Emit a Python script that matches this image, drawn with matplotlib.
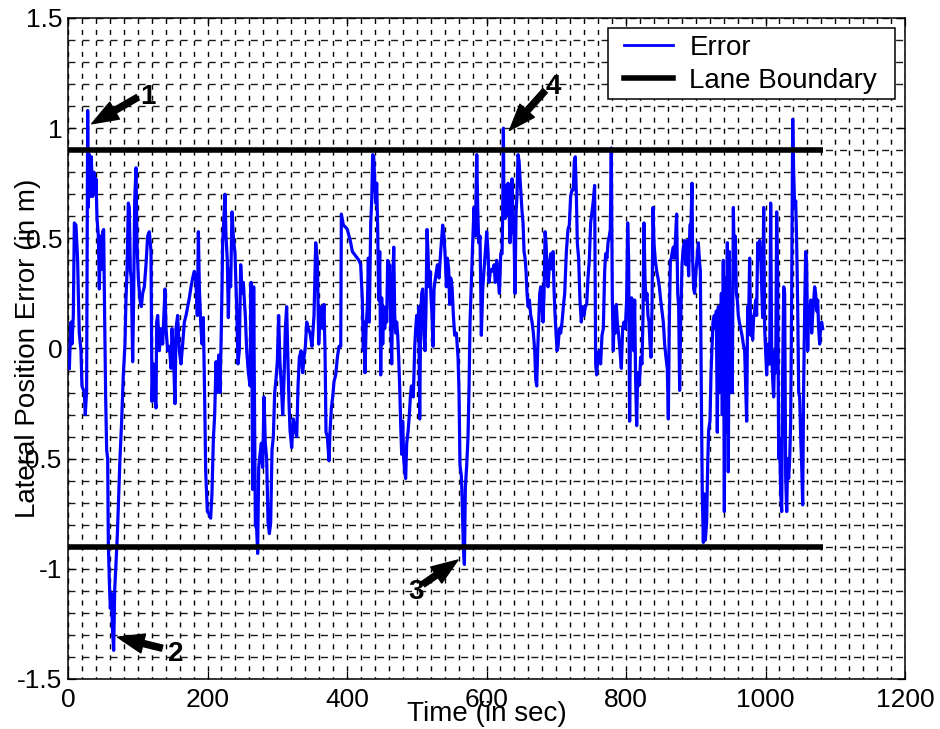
import matplotlib
matplotlib.use("Agg")
import matplotlib.pyplot as plt
from matplotlib.lines import Line2D
from matplotlib.patches import Rectangle
from matplotlib.ticker import MultipleLocator

plt.rcParams['font.family'] = ['Liberation Sans', 'DejaVu Sans']
plt.rcParams['lines.scale_dashes'] = False

# ---- data ----
time_s = [
    2, 3, 4.3, 5.7, 7.6, 9.1, 11.4, 13.8, 14.8, 16.2, 18.6, 20.0, 23.4, 24.8, 26.7, 28.2, 29.1, 30.6, 32.0, 33.4,
    35.3, 37.3, 39.2, 40.1, 41.6, 43.5, 44.9, 46.3, 48.2, 49.7, 51.1, 52.5, 54.0, 55.4, 56.9, 57.8, 59.2, 60.7, 62.1, 64.0,
    65.5, 66.9, 68.8, 70.7, 72.1, 74.5, 76.9, 79.3, 81.7, 83.1, 84.6, 86.5, 87.9, 89.4, 90.8, 92.7, 94.1, 95.6, 97.5, 98.9,
    100.8, 103.2, 105.1, 107.0, 109.4, 111.8, 114.2, 116.6, 119.0, 120.4, 122.3, 123.8, 126.2, 127.1, 128.6, 131.0, 133.3, 135.7, 139.1, 140.5,
    142.9, 145.3, 147.7, 149.1, 151.0, 153.4, 154.8, 157.2, 159.6, 162.0, 164.4, 166.8, 169.2, 171.6, 174.0, 176.4, 178.7, 181.1,
    183.5, 185.4, 186.9, 188.3, 190.2, 192.1, 194.0, 195.9, 197.4, 199.8, 202.1, 204.5, 206.4, 208.4, 210.3, 212.2, 214.1, 216.0, 217.9, 219.4,
    220.8, 221.7, 223.7, 225.1, 226.5, 228.4, 229.9, 231.3, 233.2, 235.1, 237.0, 239.4, 241.8, 243.7, 245.6, 247.6, 249.5, 251.4, 252.8, 254.2,
    256.2, 258.6, 261.0, 262.4, 263.8, 264.8, 266.2, 267.2, 268.6, 270.5, 271.9, 273.4, 275.3, 277.2, 279.1, 281.0, 282.9, 284.8, 286.8, 288.7,
    290.6, 292.5, 294.4, 296.3, 298.2, 300.1, 302.0, 304.0, 305.9, 307.8, 309.7, 311.6, 313.5, 315.4, 316.9, 318.3, 320.7, 323.1, 325.5, 327.9,
    329.8, 331.7, 334.1, 336.5, 338.4, 340.3, 342.2, 344.6, 347.0, 349.8, 352.7, 355.1, 357.5, 359.4,
    361.3, 363.2, 365.1, 367.0, 368.5, 369.9, 371.8, 374.2, 375.6, 377.6, 379.5, 381.4, 383.8, 386.2, 388.5, 391.0, 391.9, 394.8, 398.1, 400.5,
    402.9, 405.3, 407.7, 410.1, 414.8, 417.2, 419.6, 422.0, 423.4, 424.4, 425.8, 427.3, 429.2, 430.6, 432.0, 434.0, 435.4, 436.8, 438.3, 439.7,
    441.1, 442.6, 444.0, 445.4, 446.9, 448.3, 449.7, 451.2, 452.6, 454.0, 455.5, 456.9, 458.3, 459.8, 461.2, 462.6, 464.1, 465.5, 467.0, 468.4,
    469.8, 471.2, 472.7, 474.1, 475.5, 477.0, 478.4, 479.8, 481.3, 482.7, 484.1, 485.6, 487.5, 489.4, 490.8, 492.3, 493.7, 495.1, 497.1, 498.5,
    499.9, 501.4, 502.8, 504.2, 505.7, 507.1, 508.5, 510.4, 511.9, 513.3, 514.7, 516.2, 517.6, 519.0, 520.5, 521.9, 523.3, 524.8, 527.2, 529.6,
    532.0, 534.3, 537.2, 539.1, 541.0, 542.5, 543.9, 545.8, 547.2, 548.7, 550.6, 552.5, 554.4, 556.8, 559.2, 560.6, 562.0, 564.0, 565.4, 566.8,
    568.3, 569.7, 571.6, 573.5, 575.0, 576.4, 578.3, 580.2, 582.1, 584.0, 586.0, 587.4, 588.8, 590.7, 592.6, 594.6, 596.5, 598.4, 600.3, 602.2,
    603.6, 605.5, 607.5, 609.4, 610.8, 612.7, 614.6, 616.5, 618.5, 620.4, 622.3, 623.2, 624.2, 625.1, 626.6, 628.0, 629.4, 630.9, 632.3, 633.7,
    635.2, 636.6, 638.1, 639.5, 640.9, 642.4, 643.8, 645.2, 646.7, 648.1, 649.5, 651.0, 652.4, 653.8, 655.3, 656.7, 658.1, 659.6, 661.5, 663.4,
    665.3, 667.2, 669.1, 670.6, 672.0, 673.4, 674.9, 676.3, 677.7, 679.2, 681.1, 682.5, 684.0, 685.4, 686.8, 688.2, 690.2, 692.1, 694.0, 695.4,
    696.8, 698.3, 699.7, 701.1, 702.6, 704.5, 706.4, 708.3, 710.2, 712.1, 714.5,
    716.8, 718.7, 720.6, 722.5, 724.5, 725.9, 727.3, 728.8, 730.2, 732.1, 734.0, 735.9, 737.8, 739.8, 741.7, 743.6, 745.5, 747.4, 749.3, 751.2,
    753.1, 755.0, 756.5, 757.9, 759.8, 761.7, 763.6, 765.6, 767.5, 769.4, 770.8, 772.7, 774.2, 776.1, 777.5, 778.9, 780.4, 781.8, 783.2, 784.7,
    786.1, 787.5, 789.5, 791.4, 793.3, 795.2, 797.1, 799.0, 800.9, 802.4, 803.8, 805.2, 806.7, 808.1, 809.5, 811.0, 812.4, 813.8, 815.3, 816.7,
    818.1, 819.6, 821.0, 822.9, 824.4, 825.8, 827.2, 828.7, 830.1, 831.5, 833.0, 834.4, 835.8, 837.3, 838.7, 840.1, 842.0, 844.0, 845.9, 847.8,
    849.7, 851.6, 853.5, 855.4, 857.3, 859.2, 860.7, 862.1, 863.6, 865.0, 866.4, 867.9, 869.3, 870.7, 872.6, 874.1, 875.5, 876.9, 878.4, 880.3,
    882.2, 884.1, 886.0, 887.9, 889.8, 891.7, 893.2, 894.6, 895.6, 897.0, 898.4, 900.3, 902.3, 903.7, 905.1, 906.6, 908.0, 909.4, 910.9, 912.3,
    913.7, 915.6, 917.1, 918.5, 920.4, 921.9, 923.3, 924.7, 926.6, 928.1, 929.5, 930.9, 932.4, 933.8, 935.2, 936.7, 938.1, 939.5, 941.0, 942.4,
    943.8, 945.3, 946.7, 948.1, 949.6, 951.0, 952.4, 953.9, 955.3, 956.7, 958.2, 959.6, 961.0, 962.5, 964.4, 966.3, 968.2, 970.1, 971.6, 973.0,
    974.4, 975.9, 977.3, 978.7, 980.2, 981.6, 983.0, 984.5, 985.9, 987.3, 988.8, 990.2, 991.6, 993.1, 994.5, 995.9, 997.4, 998.8, 1000.2, 1001.7,
    1003.1, 1004.5, 1006.0, 1007.4, 1008.8, 1010.3, 1011.7, 1013.1, 1014.6, 1016.0, 1017.5, 1018.9, 1020.3, 1021.8, 1023.2, 1024.6, 1026.1, 1027.5, 1028.9, 1030.4,
    1031.8, 1033.2, 1034.7, 1036.1, 1037.5, 1039.0, 1040.4, 1041.8, 1043.3, 1044.7, 1046.1, 1047.6, 1049.0, 1050.4, 1051.9, 1053.3, 1054.7, 1056.2, 1057.6, 1059.0,
    1060.5, 1061.9, 1063.3, 1064.8, 1066.2, 1067.6, 1069.1, 1070.5, 1071.9, 1073.4, 1074.8, 1076.2, 1077.7, 1079.1, 1080.5, 1082.0,
]
error_m = [
    -0.09, 0.02, 0.12, 0.02, 0.15, 0.57, 0.56, 0.40, 0.25, 0.07, -0.01, -0.17, -0.20, -0.30, -0.19, 1.08, 0.64, 0.88, 0.69, 0.87,
    0.69, 0.80, 0.70, 0.77, 0.59, 0.51, 0.27, 0.51, 0.36, 0.53, 0.54, 0.15, -0.22, -0.46, -0.50, -0.88, -1.05, -1.18, -1.11, -1.29,
    -1.37, -1.10, -0.98, -0.85, -0.72, -0.50, -0.33, -0.12, 0.02, 0.22, 0.35, 0.66, 0.64, 0.35, 0.32, -0.06, 0.22, 0.67, 0.82, 0.48,
    0.32, 0.22, 0.19, 0.25, 0.28, 0.38, 0.51, 0.53, 0.44, -0.24, -0.07, -0.20, -0.27, 0.12, 0.15, -0.01, 0.09, 0.02, 0.27, 0.09,
    -0.01, 0.01, -0.09, 0.09, -0.01, -0.25, 0.09, 0.15, -0.01, -0.07, 0.02, 0.12, 0.15, 0.19, 0.23, 0.28, 0.32, 0.35,
    0.30, 0.15, 0.53, 0.28, 0.12, 0.02, 0.14, -0.22, -0.56, -0.74, -0.75, -0.77, -0.66, -0.41, -0.30, -0.06, -0.20, -0.03, -0.20, 0.02,
    0.27, 0.48, 0.61, 0.70, 0.51, 0.40, 0.14, 0.36, 0.28, 0.62, 0.51, 0.43, 0.19, -0.07, -0.01, 0.38, 0.25, 0.30, 0.22, 0.15,
    -0.01, -0.11, -0.17, 0.30, -0.14, -0.64, 0.28, -0.17, -0.80, -0.82, -0.93, -0.54, -0.48, -0.43, -0.54, -0.22, -0.43, -0.50, -0.79, -0.84,
    -0.79, -0.46, -0.40, -0.20, -0.14, -0.06, 0.15, -0.07, -0.17, -0.30, -0.14, 0.09, 0.19, -0.07, -0.25, -0.37, -0.45, -0.32, -0.37, -0.40,
    -0.17, -0.04, -0.01, -0.11, -0.04, 0.01, 0.12, 0.09, 0.07, 0.01, 0.15, 0.48, 0.40, 0.02,
    0.15, 0.19, 0.09, 0.20, -0.01, -0.38, -0.40, -0.51, -0.38, -0.27, -0.22, -0.15, -0.12, -0.04, 0.01, 0.01, 0.61, 0.56, 0.55, 0.54,
    0.51, 0.48, 0.44, 0.43, 0.41, 0.40, 0.38, 0.22, -0.01, 0.12, -0.11, 0.09, 0.19, 0.41, 0.12, 0.57, 0.67, 0.88, 0.87, 0.77,
    0.66, 0.75, 0.54, 0.22, 0.44, -0.12, 0.23, 0.02, 0.19, 0.09, 0.15, 0.12, 0.40, 0.32, 0.38, 0.12, -0.07, 0.28, 0.46, 0.15,
    0.07, 0.12, 0.06, -0.04, -0.17, -0.35, -0.48, -0.33, -0.50, -0.56, -0.59, -0.43, -0.38, -0.30, -0.22, -0.17, -0.19, -0.22, 0.01, 0.09,
    0.15, 0.06, 0.19, -0.32, 0.15, 0.25, 0.27, 0.06, -0.01, 0.19, 0.54, 0.43, 0.28, 0.35, 0.23, 0.15, 0.01, 0.27, 0.33, 0.38,
    0.32, 0.44, 0.56, 0.51, 0.40, 0.28, 0.41, 0.36, 0.20, 0.32, 0.28, 0.15, 0.06, 0.07, -0.04, -0.20, -0.53, -0.58, -0.72, -0.90,
    -0.98, -0.63, -0.53, -0.40, -0.17, 0.12, 0.30, 0.48, 0.64, 0.51, 0.88, 0.64, 0.48, 0.51, 0.06, 0.27, 0.36, 0.44, 0.53, 0.44,
    0.30, 0.35, 0.36, 0.35, 0.38, 0.30, 0.40, 0.33, 0.25, 0.43, 0.43, 0.61, 1.00, 0.64, 0.59, 0.74, 0.61, 0.75, 0.64, 0.48,
    0.64, 0.77, 0.54, 0.51, 0.25, 0.62, 0.70, 0.88, 0.85, 0.77, 0.70, 0.62, 0.57, 0.44, 0.41, 0.35, 0.25, 0.19, 0.22, 0.15,
    0.12, 0.07, -0.01, -0.14, -0.17, -0.01, 0.12, 0.25, 0.28, 0.20, 0.12, 0.25, 0.53, 0.48, 0.35, 0.28, 0.38, 0.43, 0.36, 0.44,
    0.27, 0.15, 0.07, -0.01, 0.01, 0.09, 0.07, 0.12, 0.19, 0.25, 0.44,
    0.54, 0.56, 0.69, 0.72, 0.72, 0.85, 0.87, 0.70, 0.48, 0.41, 0.22, 0.12, 0.19, 0.15, 0.19, 0.20, 0.32, 0.40, 0.57, 0.62,
    0.67, 0.74, -0.07, -0.12, -0.04, -0.01, -0.07, 0.06, 0.09, 0.35, 0.43, 0.41, 0.48, 0.51, 0.54, 0.91, 0.22, -0.01, 0.19, 0.07,
    0.20, 0.12, 0.06, -0.01, -0.09, 0.09, 0.12, 0.09, 0.22, 0.57, 0.40, -0.33, 0.19, 0.23, 0.12, -0.01, 0.22, -0.14, -0.35, -0.11,
    -0.17, -0.14, -0.04, -0.07, 0.15, 0.57, 0.32, 0.22, 0.25, 0.15, 0.12, 0.02, -0.04, 0.19, 0.64, 0.48, 0.40, 0.35, 0.32, 0.28,
    0.22, 0.17, 0.12, 0.02, -0.04, -0.09, -0.32, 0.12, 0.40, 0.41, 0.44, 0.46, 0.41, 0.48, 0.61, 0.25, 0.19, -0.19, 0.12, 0.38,
    0.46, 0.49, 0.38, 0.49, 0.33, 0.56, 0.57, 0.75, 0.40, 0.27, 0.25, 0.35, 0.43, 0.48, 0.41, 0.35, -0.20, -0.67, -0.88, -0.66,
    -0.87, -0.79, -0.53, -0.37, -0.33, -0.11, 0.01, 0.12, 0.15, 0.09, 0.17, -0.38, 0.19, -0.20, -0.07, 0.25, -0.30, 0.40, -0.74, 0.32,
    -0.38, 0.48, -0.56, 0.44, -0.20, -0.03, -0.20, 0.64, 0.38, 0.51, 0.25, 0.22, 0.15, 0.12, 0.09, 0.06, 0.02, -0.01, -0.17, -0.33,
    0.19, 0.15, 0.41, 0.06, 0.10, 0.04, 0.14, 0.17, 0.22, 0.15, 0.48, 0.41, 0.49, 0.43, 0.28, 0.14, 0.64, 0.09, -0.01, -0.12,
    0.02, -0.07, -0.07, 0.66, -0.01, -0.14, -0.22, -0.01, -0.11, 0.62, 0.32, -0.50, -0.41, -0.66, -0.74, -0.11, 0.28, 0.25, -0.58, -0.74,
    -0.50, -0.59, -0.50, -0.33, 0.23, 1.04, 0.80, 0.64, 0.67, 0.48, 0.20, -0.20, -0.22, -0.40, -0.53, -0.71, -0.17, 0.19, 0.44, 0.38,
    -0.01, 0.19, 0.15, 0.22, 0.07, 0.15, 0.22, 0.28, 0.25, 0.17, 0.22, 0.09, 0.02, 0.10, 0.12, 0.09,
]

lane_t = [0, 1082]
lane_upper = 0.9
lane_lower = -0.9

x_ticks = [0, 200, 400, 600, 800, 1000, 1200]
y_ticks = [-1.5, -1, -0.5, 0, 0.5, 1, 1.5]
y_tick_labels = ['-1.5', '-1', '-0.5', '0', '0.5', '1', '1.5']

legend_labels = ['Error', 'Lane Boundary']

# annotation (label, tip, tail, text position)
ann_labels = ['1', '2', '3', '4']
ann_tip = [(34, 1.02), (71, -1.31), (559, -0.96), (633, 0.99)]
ann_tail = [(100, 1.14), (135, -1.36), (509, -1.07), (684, 1.17)]
ann_text = [(115, 1.14), (154, -1.385), (499, -1.105), (696, 1.185)]

# ---- figure ----
fig = plt.figure(figsize=(9.4, 7.29), dpi=100)
ax = fig.add_axes([68/940, 50/729, 837/940, 661/729])

ax.plot(time_s, error_m, color='#0000ff', lw=2.3, zorder=3)
ax.plot(lane_t, [lane_upper]*2, color='k', lw=4.0, solid_capstyle='butt', zorder=4)
ax.plot(lane_t, [lane_lower]*2, color='k', lw=4.0, solid_capstyle='butt', zorder=4)

ax.set_xlim(0, 1200)
ax.set_ylim(-1.5, 1.5)
ax.set_xticks(x_ticks)
ax.set_yticks(y_ticks)
ax.set_yticklabels(y_tick_labels)
ax.xaxis.set_minor_locator(MultipleLocator(20))
ax.yaxis.set_minor_locator(MultipleLocator(0.1))

ax.tick_params(which='major', direction='in', length=6, width=0.9, top=True, right=True,
               labelsize=19, pad=6.5)
ax.tick_params(axis='y', which='major', pad=4)
ax.tick_params(which='minor', length=0, top=True, right=True)

ax.xaxis.grid(True, which='both', color='k', lw=1.0, linestyle=(2.0, (3.6, 4.3)))
ax.yaxis.grid(True, which='both', color='0.1', lw=1.0, linestyle=(0, (5.0, 5.1)))
ax.set_axisbelow(True)
for s in ax.spines.values():
    s.set_linewidth(1.1)

ax.set_xlabel('Time (in sec)', fontsize=20)
ax.xaxis.set_label_coords(0.5, -0.034)
ax.xaxis.label.set_va('top')
ax.set_ylabel('Lateral Position Error (in m)', fontsize=20)
ax.yaxis.label.set_va('center')
ax.yaxis.set_label_coords(-0.048, 0.5)

for lab, tip, tail, tp in zip(ann_labels, ann_tip, ann_tail, ann_text):
    ax.annotate('', xy=tip, xytext=tail,
                arrowprops=dict(arrowstyle='simple,head_length=0.95,head_width=0.7,tail_width=0.22',
                                mutation_scale=20, color='k', shrinkA=0, shrinkB=0), zorder=6)
    ax.text(tp[0], tp[1], lab, fontsize=20, fontweight='bold', ha='center', va='center', zorder=6)

# legend: frame drawn as a box, entries placed inside it
ax.add_patch(Rectangle((540/837, 580/661), 287/837, 71/661, transform=ax.transAxes,
                       facecolor='white', edgecolor='k', lw=1.1, zorder=7))
handles = [Line2D([], [], color='#0000ff', lw=2.0),
           Line2D([], [], color='k', lw=4.0)]
leg = ax.legend(handles, legend_labels, loc='upper left', bbox_to_anchor=(556/837, 644/661),
                fontsize=20, frameon=False, borderaxespad=0, borderpad=0,
                handlelength=1.75, handletextpad=0.6, labelspacing=0.26)
leg.set_zorder(8)

fig.savefig('out.png', dpi=100)
